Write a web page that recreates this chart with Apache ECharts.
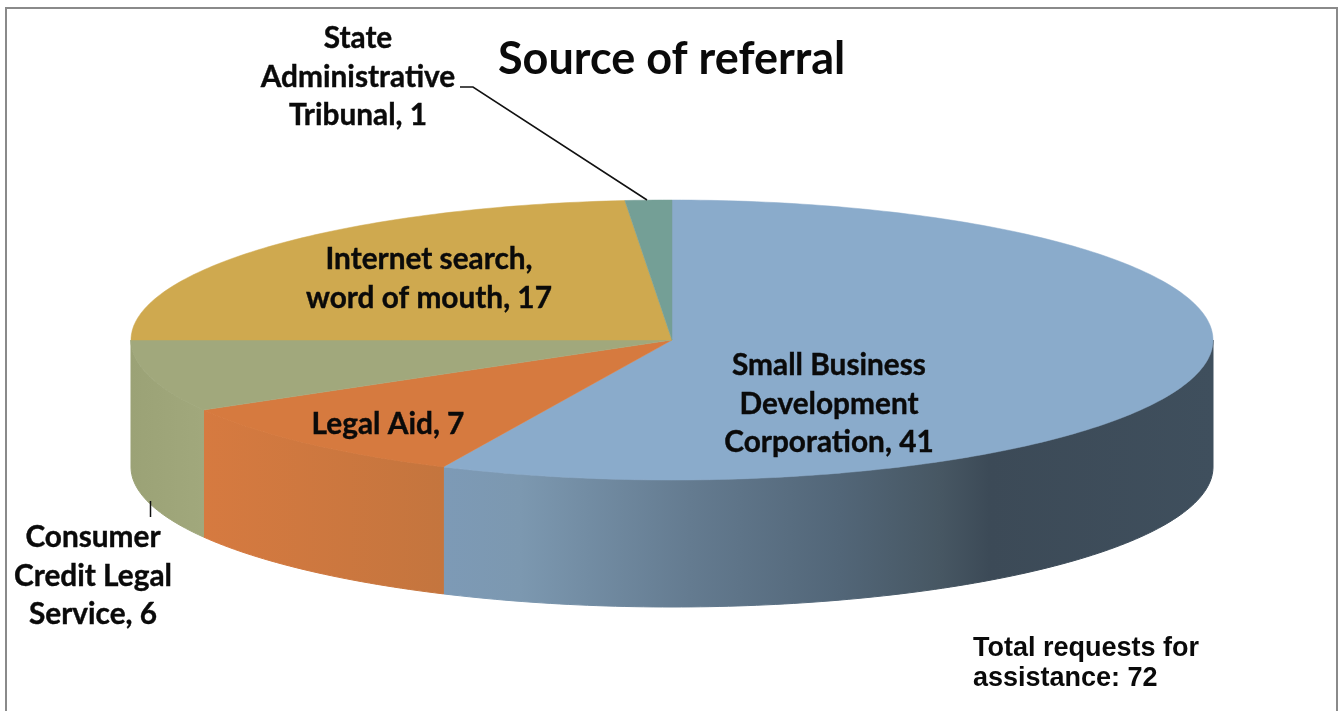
<!DOCTYPE html>
<html>
<head>
<meta charset="utf-8">
<title>Source of referral</title>
<script src="https://cdn.jsdelivr.net/npm/echarts@6/dist/echarts.min.js"></script>
<style>
html, body { margin: 0; padding: 0; background: #fff; }
#chart { width: 1343px; height: 711px; }
</style>
</head>
<body>
<div id="chart"></div>
<script>
const categories = [
  'Small Business\nDevelopment\nCorporation',
  'Legal Aid',
  'Consumer\nCredit Legal\nService',
  'Internet search,\nword of mouth',
  'State\nAdministrative\nTribunal'
]
const values = [41, 7, 6, 17, 1]
const totalNote = 'Total requests for\nassistance: 72'

// styling, one entry per slice
const topColors = ['#8aabcb', '#d67a3f', '#a1a87c', '#cfa94f', '#749f96']
const wallStops = [
  [[0, '#7d9ab6'], [0.1, '#7c98b0'], [0.32, '#647b90'], [0.515, '#526678'], [0.645, '#475763'], [0.71, '#3c4a57'], [1, '#3f4f5d']],
  [[0, '#d67a40'], [1, '#c4753e']],
  [[0, '#9ba276'], [1, '#a1a87c']],
  null,
  null
]
const labelCenters = [[829, 404], [388, 424], [93, 576], [429, 279], [358, 77]]

// pie geometry
const cx = 672
const cy = 340
const rx = 541
const ry = 140
const depth = 127
const total = values.reduce((a, b) => a + b, 0)

function rimPoint(deg, dy) {
  const r = deg * Math.PI / 180
  return [cx + rx * Math.sin(r), cy - ry * Math.cos(r) + (dy || 0)]
}

function arcPoints(from, to, dy) {
  const pts = []
  const steps = Math.max(2, Math.ceil(Math.abs(to - from)))
  for (let i = 0; i <= steps; i++) {
    pts.push(rimPoint(from + (to - from) * i / steps, dy))
  }
  return pts
}

function renderSlice(params, api) {
  const i = params.dataIndex
  const before = values.slice(0, i).reduce((a, b) => a + b, 0)
  const start = before / total * 360
  const end = (before + api.value(0)) / total * 360
  const children = []

  // outer wall, only the part facing the viewer
  const wallFrom = Math.max(start, 90)
  const wallTo = Math.min(end, 270)
  if (wallTo > wallFrom && wallStops[i]) {
    const upper = arcPoints(wallFrom, wallTo, 0)
    const lower = arcPoints(wallTo, wallFrom, depth)
    const xs = upper.map(p => p[0])
    const minX = Math.min.apply(null, xs)
    const maxX = Math.max.apply(null, xs)
    // gradient runs from the left of the slice wall to its right
    const wallFill = new echarts.graphic.LinearGradient(minX, 0, maxX, 0, wallStops[i].map(s => ({
      offset: s[0],
      color: s[1]
    })), true)
    children.push({
      type: 'polygon',
      shape: { points: upper.concat(lower) },
      style: { fill: wallFill, stroke: wallFill, lineWidth: 1 }
    })
  }

  // top face
  children.push({
    type: 'polygon',
    shape: { points: [[cx, cy]].concat(arcPoints(start, end, 0)) },
    style: { fill: topColors[i], stroke: topColors[i], lineWidth: 0.5 }
  })

  return { type: 'group', children: children }
}

function renderLabel(params, api) {
  const i = params.dataIndex
  return {
    type: 'text',
    x: labelCenters[i][0],
    y: labelCenters[i][1],
    style: {
      text: categories[i] + ', ' + api.value(0),
      fill: '#0a0a0a',
      stroke: '#0a0a0a',
      lineWidth: 0.4,
      font: 'bold 29.8px Lato',
      lineHeight: 38.5,
      align: 'center',
      verticalAlign: 'middle'
    }
  }
}

const chart = echarts.init(document.getElementById('chart'))
chart.setOption({
  animation: false,
  backgroundColor: '#fff',
  title: {
    text: 'Source of referral',
    left: 498,
    top: 37,
    padding: 0,
    textStyle: {
      color: '#0a0a0a',
      fontFamily: 'Lato',
      fontWeight: 'bold',
      fontSize: 45
    }
  },
  graphic: [
    {
      type: 'rect',
      shape: { x: 6, y: 8, width: 1331, height: 720 },
      style: { fill: 'none', stroke: '#8a8a8a', lineWidth: 2 }
    },
    {
      type: 'polyline',
      shape: { points: [[460, 87], [473, 87], [647, 200]] },
      style: { fill: 'none', stroke: '#111', lineWidth: 1.5 },
      z: 5
    },
    {
      type: 'line',
      shape: { x1: 150.5, y1: 501, x2: 150.5, y2: 517 },
      style: { stroke: '#111', lineWidth: 1.5 },
      z: 5
    },
    {
      type: 'text',
      x: 973,
      y: 664,
      style: {
        text: totalNote,
        fill: '#0a0a0a',
        font: 'bold 27px "Liberation Sans"',
        lineHeight: 30,
        align: 'left',
        verticalAlign: 'middle'
      },
      z: 5
    }
  ],
  series: [
    {
      name: 'slices',
      type: 'custom',
      coordinateSystem: 'none',
      renderItem: renderSlice,
      data: values.map(v => [v]),
      encode: { value: 0 },
      z: 2
    },
    {
      name: 'labels',
      type: 'custom',
      coordinateSystem: 'none',
      renderItem: renderLabel,
      data: values.map(v => [v]),
      encode: { value: 0 },
      z: 3
    }
  ]
})
</script>
</body>
</html>
